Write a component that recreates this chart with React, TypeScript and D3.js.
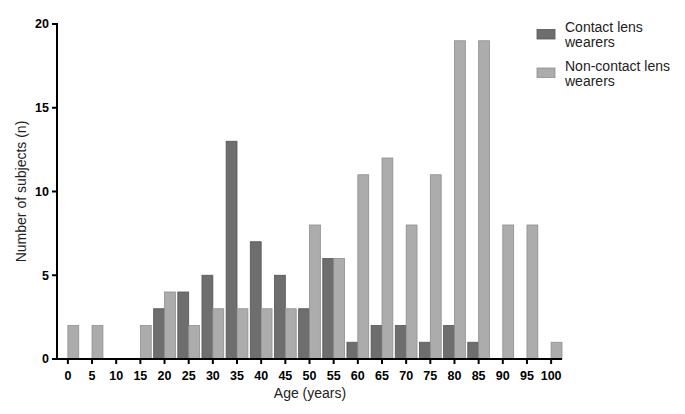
import React from 'react';
import * as d3 from 'd3';

const ageGroups = ['0', '5', '10', '15', '20', '25', '30', '35', '40', '45', '50', '55', '60', '65', '70', '75', '80', '85', '90', '95', '100'];
const contactLens = [0, 0, 0, 0, 3, 4, 5, 13, 7, 5, 3, 6, 1, 2, 2, 1, 2, 1, 0, 0, 0];
const nonContactLens = [2, 2, 0, 2, 4, 2, 3, 3, 3, 3, 8, 6, 11, 12, 8, 11, 19, 19, 8, 8, 1];
const yTicks = [0, 5, 10, 15, 20];

const seriesNames = ['Contact lens wearers', 'Non-contact lens wearers'];
const legendLines = [['Contact lens', 'wearers'], ['Non-contact lens', 'wearers']];
const fills = ['#6e6e6e', '#acacac'];
const strokes = ['#555555', '#8e8e8e'];

const width = 685;
const height = 414;
const margin = { left: 57, right: 123, top: 24, bottom: 55 };
const font = 'Arial, "Liberation Sans", Helvetica, sans-serif';

export default function App() {
  const x = d3.scaleBand<string>()
    .domain(ageGroups)
    .range([margin.left, width - margin.right])
    .paddingInner(0.1)
    .paddingOuter(0);
  const xSub = d3.scaleBand<string>()
    .domain(seriesNames)
    .range([0, x.bandwidth()]);
  const y = d3.scaleLinear()
    .domain([0, 20])
    .range([height - margin.bottom, margin.top]);

  const series = [contactLens, nonContactLens];
  const y0 = y(0);

  return (
    <svg width={width} height={height} style={{ position: 'absolute', left: 0, top: 0, background: '#fff' }}>
      {series.map((vals, si) => (
        <g key={si}>
          {vals.map((v, i) => v > 0 ? (
            <rect key={i}
              x={(x(ageGroups[i]) as number) + (xSub(seriesNames[si]) as number)}
              y={y(v)}
              width={xSub.bandwidth()}
              height={y0 - y(v)}
              fill={fills[si]}
              stroke={strokes[si]}
              strokeWidth={0.8} />
          ) : null)}
        </g>
      ))}

      {/* y axis */}
      <line x1={margin.left} x2={margin.left} y1={y(20) - 1} y2={y0 + 1} stroke="#000" strokeWidth={2} />
      {yTicks.map(t => (
        <g key={t}>
          <line x1={margin.left - 5} x2={margin.left} y1={y(t)} y2={y(t)} stroke="#000" strokeWidth={2} />
          <text x={margin.left - 8} y={y(t)} dy="0.35em" textAnchor="end"
            fontFamily={font} fontWeight="bold" fontSize={12.5}>{t}</text>
        </g>
      ))}
      <text transform={`translate(21,${(y(0) + y(20)) / 2}) rotate(-90)`} textAnchor="middle"
        dy="0.35em" fontFamily={font} fontSize={14} fill="#222">Number of subjects (n)</text>

      {/* x axis */}
      <line x1={margin.left - 1} x2={width - margin.right} y1={y0} y2={y0} stroke="#000" strokeWidth={2} />
      {ageGroups.map(a => {
        const cx = (x(a) as number) + x.bandwidth() / 2;
        return (
          <g key={a}>
            <line x1={cx} x2={cx} y1={y0} y2={y0 + 5} stroke="#000" strokeWidth={2} />
            <text x={cx} y={y0 + 21} textAnchor="middle"
              fontFamily={font} fontWeight="bold" fontSize={12.5}>{a}</text>
          </g>
        );
      })}
      <text x={310} y={398} textAnchor="middle" fontFamily={font} fontSize={14} fill="#222">Age (years)</text>

      {/* legend */}
      {legendLines.map((lines, i) => (
        <g key={i} transform={`translate(537,${29.5 + i * 38.5})`}>
          <rect x={0} y={0} width={18} height={9.5} fill={fills[i]} stroke={strokes[i]} strokeWidth={0.8} />
          <text x={28} y={2.5} fontFamily={font} fontSize={14} fill="#222">
            <tspan x={28} dy="0">{lines[0]}</tspan>
            <tspan x={28} dy="15">{lines[1]}</tspan>
          </text>
        </g>
      ))}
    </svg>
  );
}
